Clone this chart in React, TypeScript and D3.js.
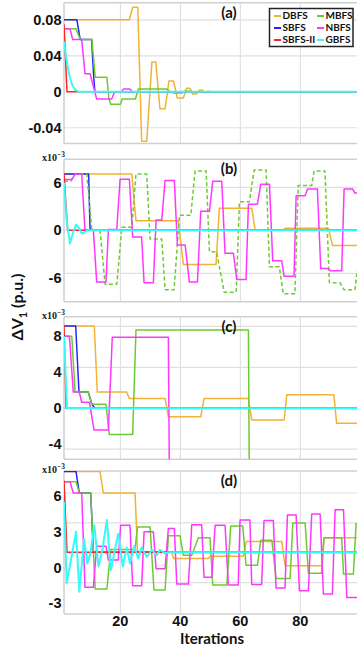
import React from 'react';
import * as d3 from 'd3';

type Pt = [number, number];

// ---------- data (iteration, ΔV1) vertices ----------
const seriesNames = ['DBFS', 'SBFS', 'SBFS-II', 'MBFS', 'NBFS', 'GBFS'];
const panelLabels = ['(a)', '(b)', '(c)', '(d)'];
const xTickValues = [20, 40, 60, 80];

// panel (a), p.u.
const DBFS_a: Pt[] = [[1.2,0.08],[23,0.08],[24.1,0.094],[25.8,0.094],[27.1,-0.055],[28.8,-0.055],[30.5,0.033],[31.8,0.033],[33.2,-0.019],[34.9,-0.019],[36.2,0.012],[37.7,0.012],[39,-0.007],[41,-0.007],[42.1,0.004],[43.2,0.004],[44.1,-0.0026],[45.3,-0.0026],[46.3,0.0018],[47.3,0.0018],[48.3,-0.001],[49.3,0.0006],[50.5,0],[99,0]];
const SBFS_a: Pt[] = [[1.2,0.08],[5.5,0.08],[6.6,0.058],[10.4,0.058],[11.1,0.017],[11.5,0],[99,0]];
const SBFS2_a: Pt[] = [[1.2,0.075],[2.2,0],[99,0]];
const MBFS_a: Pt[] = [[1.2,0.07],[5.2,0.07],[6.6,0.058],[10.5,0.058],[11.6,0.016],[15.5,0.016],[16.2,-0.008],[16.8,-0.014],[20,-0.014],[20.6,-0.008],[25,-0.008],[26,0.003],[35.5,0.003],[36.5,0],[38,-0.0015],[40.5,-0.0015],[41.5,0.0008],[43,0.0008],[44,0],[99,0]];
const NBFS_a: Pt[] = [[1.2,0.07],[3.2,0.07],[4.1,0.058],[7.1,0.058],[8.2,0.02],[9.9,0.02],[12.1,-0.008],[17.1,-0.008],[18.1,0],[20.4,0],[21,0.003],[23.2,0.003],[24,0],[99,0]];
const GBFS_a: Pt[] = [[1.2,0.056],[2,0.036],[3,0.018],[4,0.007],[5,0.002],[6,0],[99,0]];

// panel (b), x1e-3 p.u.
const DBFS_b: Pt[] = [[1.2,7.1],[23.8,7.1],[25.2,1.2],[39.3,1.2],[41,-4.3],[51.9,-4.3],[53,2.8],[63.8,2.8],[64.9,0.05],[74.3,0.05],[74.9,0.25],[89.4,0.25],[90.7,-1.9],[99,-1.9]];
const SBFS_b: Pt[] = [[1.2,7.1],[9.4,7.1],[9.9,0],[99,0]];
const SBFS2_b: Pt[] = [[1.2,7.1],[2.4,0],[99,0]];
const MBFS_b: Pt[] = [[1.2,6.2],[3.5,6.2],[4.9,7.1],[8.8,7.1],[10.5,0],[13.2,0],[14.9,-6.8],[18.8,-6.8],[20.5,0.4],[23.8,0.4],[25.2,7.1],[28.8,7.1],[29.9,-1.1],[33.8,-1.1],[34.9,-7.5],[37.9,-7.5],[39.7,1.9],[43.5,1.9],[44.9,7.5],[48.6,7.5],[49.7,-2.7],[52.1,-2.7],[54.6,-7.8],[58.6,-7.8],[59.7,3.6],[63,3.6],[64.6,7.6],[68.6,7.6],[69.7,-4.6],[73,-4.6],[74.3,-8],[78.2,-8],[79.3,5.65],[83.8,5.65],[84.6,7.5],[88.2,7.5],[89.7,-6.6],[93.2,-6.6],[94.6,-7.5],[98.2,-7.5],[99,-5]];
const NBFS_b: Pt[] = [[1.2,6.4],[3.8,6.4],[4.9,7.1],[7.1,7.1],[8.2,0],[11,0],[12.1,-6.5],[15.2,-6.5],[16,0.1],[18.8,0.1],[19.9,6.45],[23,6.45],[24.1,-0.85],[27.1,-0.85],[27.9,-6.6],[31,-6.6],[31.9,1.3],[33.8,1.3],[34.9,6.3],[38,6.3],[39,-1.85],[41.6,-1.85],[43,-6.5],[45.7,-6.5],[46.8,2.4],[49.7,2.4],[50.8,6.2],[53.8,6.2],[54.9,-2.9],[57.7,-2.9],[58.8,-6.2],[61.9,-6.2],[62.7,3.3],[65.7,3.3],[66.8,5.8],[69.7,5.8],[70.8,-3.85],[73.8,-3.85],[74.6,-5.8],[77.9,-5.8],[78.6,4.35],[81.6,4.35],[82.4,5.2],[85.7,5.2],[86.8,-4.8],[89.3,-4.8],[89.9,-5.1],[93.8,-5.1],[94.6,5.2],[97.5,5.2],[98.2,4.7],[99,4.7]];
const GBFS_b: Pt[] = [[1.2,6],[2,1.5],[3.2,-1.65],[4.2,-0.3],[5.2,0.7],[6.2,0.3],[7.1,-0.4],[8.2,-0.2],[9,0],[99,0]];

// panel (c), x1e-3 p.u.
const DBFS_c: Pt[] = [[1.2,9.15],[11.3,9.15],[12.3,1.8],[22.1,1.8],[23,1.1],[34.9,1.1],[36,-0.95],[46.8,-0.95],[47.9,1.1],[62.7,1.1],[63.8,-1.3],[74.6,-1.3],[75.5,1.5],[91.2,1.5],[92.1,-1.67],[99,-1.67]];
const SBFS_c: Pt[] = [[1.2,9.15],[5.1,9.15],[6.2,1.8],[9.3,1.8],[10.5,0.45],[11.5,0],[99,0]];
const SBFS2_c: Pt[] = [[1.2,9.15],[1.9,0],[99,0]];
const MBFS_c: Pt[] = [[1.2,8.0],[3.8,8.0],[4.9,1.8],[9.3,1.8],[10.5,0.45],[15.2,0.45],[16.3,-2.9],[24.1,-2.9],[25.2,8.7],[62.7,8.7],[63.2,-20],[99,-20]];
const NBFS_c: Pt[] = [[1.2,8.0],[3,8.0],[4.3,1.8],[6.3,1.8],[7.1,0.67],[9.7,0.67],[11.2,-2.4],[16,-2.4],[17.3,7.9],[36,7.9],[36.6,-20],[99,-20]];
const GBFS_c: Pt[] = [[1.2,8.0],[2.2,0],[99,0]];

// panel (d), x1e-3 p.u.
const DBFS_d: Pt[] = [[1.2,8.05],[13.2,8.05],[14.3,6.25],[24.9,6.25],[25.7,1.33],[37.1,1.33],[37.7,0.78],[49.3,0.78],[50.3,0.97],[61,0.97],[62,2.2],[73.8,2.2],[74.9,0.17],[87.1,0.17],[87.9,2.5],[99,2.5]];
const SBFS_d: Pt[] = [[1.2,8.05],[5.2,8.05],[6.3,6.25],[10.1,6.25],[11,1.3],[99,1.3]];
const SBFS2_d: Pt[] = [[1.2,7.3],[2.2,1.3],[99,1.3]];
const MBFS_d: Pt[] = [[1.2,7.2],[5.2,7.2],[6.3,6.25],[10.1,6.25],[11.6,-1.78],[15.5,-1.78],[16.8,1.53],[24.9,1.53],[25.7,3.4],[29.9,3.4],[31.2,-1.86],[34.9,-1.86],[36,2.67],[39.9,2.67],[41,1.05],[43.8,1.05],[46,2.5],[49.9,2.5],[50.8,-1.45],[55.5,-1.45],[56.8,3.5],[60.8,3.5],[61.9,0.2],[65.7,0.2],[66.8,2.3],[70.5,2.3],[71.9,-0.9],[76.6,-0.9],[77.5,3.75],[81.6,3.75],[82.7,-0.47],[87.1,-0.47],[87.9,2.5],[93.8,2.5],[94.4,-0.53],[97.7,-0.53],[98.6,3.7],[99,3.7]];
const NBFS_d: Pt[] = [[1.2,7.2],[3.2,7.2],[4.3,6.25],[7.1,6.25],[8.2,-1.64],[11,-1.64],[12.1,1.8],[15.2,1.8],[16,0.64],[19.3,0.64],[20.1,3.55],[23.2,3.55],[24.1,-1.5],[27.1,-1.5],[27.9,3.0],[31,3.0],[31.9,-0.08],[34.9,-0.08],[36,3.28],[38,3.28],[38.8,-1.36],[42.7,-1.36],[43.8,3.6],[47.1,3.6],[47.9,-0.8],[50.5,-0.8],[51.6,3.55],[54.9,3.55],[56,-1.45],[59.3,-1.45],[59.9,4.0],[63.2,4.0],[63.8,-1.4],[67.1,-1.4],[67.9,3.95],[71,3.95],[71.9,-1.7],[74.9,-1.7],[75.7,4.4],[78.6,4.4],[79.7,-1.93],[82.7,-1.93],[83.8,4.5],[86.6,4.5],[87.7,-2.2],[90.7,-2.2],[91.6,4.85],[94.4,4.85],[95.5,-2.5],[99,-2.5]];
const GBFS_d: Pt[] = [[1.2,5.5],[2.1,-1.3],[5.2,3.0],[6.3,-2.0],[7.9,2.4],[9.0,0.36],[10,1.2],[11.3,3.55],[12.7,0.1],[14,1.5],[15.5,4.0],[16.8,-0.2],[18,1.3],[19.3,2.85],[20.8,0.1],[22.1,1.7],[23.2,0.36],[24.6,1.8],[26,0.78],[27.1,1.7],[28.8,0.9],[30.5,1.5],[32.1,1.05],[33.2,1.5],[34.9,1.2],[36,1.3],[99,1.3]];

// y tick labels and grid levels per panel
const yTicksA = [-0.04, 0, 0.04, 0.08];
const yTickLabelsA = ['-0.04', '0', '0.04', '0.08'];
const yGridA = [-0.04, 0, 0.04, 0.08];
const yTicksB = [-6, 0, 6];
const yTickLabelsB = ['-6', '0', '6'];
const yGridB = [-5.43, 0, 5.43];
const yTicksC = [-4, 0, 4, 8];
const yTickLabelsC = ['-4', '0', '4', '8'];
const yGridC = [-4.55, 0, 4.55, 9.1];
const yTicksD = [-3, 0, 3, 6];
const yTickLabelsD = ['-3', '0', '3', '6'];
const yGridD = [-1.25, 1.25, 3.75, 6.25];

// ---------- styling / layout ----------
const W = 357, H = 648;
const X0 = 64, X1 = 357;
const colors: Record<string, string> = {
  'DBFS': '#F2B233',
  'SBFS': '#2424FF',
  'SBFS-II': '#FF2424',
  'MBFS': '#6CCB2E',
  'NBFS': '#FF36FF',
  'GBFS': '#36FAFA',
};
const drawOrder = ['DBFS', 'SBFS', 'MBFS', 'NBFS', 'SBFS-II', 'GBFS'];

const panels = [
  { top: 2.7, bottom: 143.5, domain: [-0.0575, 0.099], exp: false,
    ticks: yTicksA, tickLabels: yTickLabelsA, grid: yGridA, dashed: [] as string[],
    data: { 'DBFS': DBFS_a, 'SBFS': SBFS_a, 'SBFS-II': SBFS2_a, 'MBFS': MBFS_a, 'NBFS': NBFS_a, 'GBFS': GBFS_a } as Record<string, Pt[]> },
  { top: 159.3, bottom: 301.7, domain: [-9.0, 8.96], exp: true,
    ticks: yTicksB, tickLabels: yTickLabelsB, grid: yGridB, dashed: ['MBFS'],
    data: { 'DBFS': DBFS_b, 'SBFS': SBFS_b, 'SBFS-II': SBFS2_b, 'MBFS': MBFS_b, 'NBFS': NBFS_b, 'GBFS': GBFS_b } as Record<string, Pt[]> },
  { top: 316.7, bottom: 459.3, domain: [-5.67, 10.18], exp: true,
    ticks: yTicksC, tickLabels: yTickLabelsC, grid: yGridC, dashed: [] as string[],
    data: { 'DBFS': DBFS_c, 'SBFS': SBFS_c, 'SBFS-II': SBFS2_c, 'MBFS': MBFS_c, 'NBFS': NBFS_c, 'GBFS': GBFS_c } as Record<string, Pt[]> },
  { top: 471, bottom: 614, domain: [-3.87, 8.09], exp: true,
    ticks: yTicksD, tickLabels: yTickLabelsD, grid: yGridD, dashed: [] as string[],
    data: { 'DBFS': DBFS_d, 'SBFS': SBFS_d, 'SBFS-II': SBFS2_d, 'MBFS': MBFS_d, 'NBFS': NBFS_d, 'GBFS': GBFS_d } as Record<string, Pt[]> },
];

const tickFont = '"Liberation Sans", Arial, sans-serif';
const labelFont = 'Lato, "Open Sans", sans-serif';

export default function App() {
  const x = d3.scaleLinear().domain([1.2, 98.9]).range([X0, X1]);
  return (
    <svg width={W} height={H} style={{ position: 'absolute', left: 0, top: 0, background: '#fff' }}>
      <rect x={0} y={0} width={W} height={H} fill="#fff" />
      <defs>
        {panels.map((p, i) => (
          <clipPath id={`clip${i}`} key={i}>
            <rect x={X0} y={p.top} width={X1 - X0} height={p.bottom - p.top} />
          </clipPath>
        ))}
      </defs>
      {panels.map((p, i) => {
        const y = d3.scaleLinear().domain(p.domain).range([p.bottom, p.top]);
        const line = d3.line<Pt>().x(d => x(d[0])).y(d => y(d[1]));
        return (
          <g key={i}>
            {/* grid */}
            {xTickValues.map(v => (
              <line key={'vx' + v} x1={x(v)} x2={x(v)} y1={p.top} y2={p.bottom} stroke="#dcdcdc" strokeWidth={1} />
            ))}
            {p.grid.map(v => (
              <line key={'gy' + v} x1={X0} x2={X1} y1={y(v)} y2={y(v)} stroke="#e0e0e0" strokeWidth={1.2} />
            ))}
            {/* frame */}
            <line x1={X0} x2={X1} y1={p.top} y2={p.top} stroke="#cfcfcf" strokeWidth={1.5} />
            <line x1={X0} x2={X1} y1={p.bottom} y2={p.bottom} stroke="#cfcfcf" strokeWidth={1.5} />
            <line x1={X0} x2={X0} y1={p.top} y2={p.bottom} stroke="#cfcfcf" strokeWidth={1.5} />
            {/* series */}
            <g clipPath={`url(#clip${i})`}>
              {drawOrder.map(name => (
                <path key={name} d={line(p.data[name]) || ''} fill="none" stroke={colors[name]}
                  strokeWidth={name === 'GBFS' ? 2 : 1.5}
                  strokeDasharray={p.dashed.includes(name) ? '4,2.5' : undefined}
                  strokeLinejoin="round" />
              ))}
            </g>
            {/* y tick labels */}
            {p.ticks.map((v, k) => (
              <text key={'t' + v} x={61.5} y={y(v) + 1} textAnchor="end" dominantBaseline="middle"
                fontFamily={tickFont} fontWeight="bold" fontSize={14.5} fill="#111">{p.tickLabels[k]}</text>
            ))}
            {p.exp && (
              <text x={65} y={p.top + 2} textAnchor="end" fontFamily='"Liberation Serif", "DejaVu Serif", serif'
                fontWeight="bold" fontSize={10} fill="#222">
                x10<tspan fontSize={7.5} dy={-4}>−3</tspan>
              </text>
            )}
            {/* panel label */}
            <text x={229} y={p.top + 11} textAnchor="middle" dominantBaseline="middle"
              fontFamily={labelFont} fontWeight="bold" fontSize={15} fill="#111">{panelLabels[i]}</text>
          </g>
        );
      })}
      {/* x tick labels */}
      {xTickValues.map(v => (
        <text key={'xt' + v} x={x(v)} y={622.5} textAnchor="middle" dominantBaseline="middle"
          fontFamily={tickFont} fontWeight="bold" fontSize={14.5} fill="#111">{v}</text>
      ))}
      <text x={212} y={640} textAnchor="middle" dominantBaseline="middle"
        fontFamily={labelFont} fontWeight="bold" fontSize={15} fill="#111">Iterations</text>
      {/* y title */}
      <text transform="translate(23,307) rotate(-90)" textAnchor="middle"
        fontFamily={labelFont} fontWeight="bold" fontSize={16} fill="#111">
        ΔV<tspan fontSize={11} dy={4}>1</tspan><tspan dy={-4}> (p.u.)</tspan>
      </text>
      {/* legend */}
      <g>
        <rect x={269.5} y={8.5} width={83.5} height={38} fill="#fff" stroke="#222" strokeWidth={1.5} />
        {seriesNames.map((name, k) => {
          const col = k < 3 ? 0 : 1;
          const row = k % 3;
          const lx = col === 0 ? 274 : 317;
          const ly = 16 + row * 12;
          return (
            <g key={name}>
              <line x1={lx} x2={lx + 7} y1={ly} y2={ly} stroke={colors[name]} strokeWidth={2} />
              <text x={lx + 8.5} y={ly} dominantBaseline="middle" fontFamily={labelFont}
                fontWeight="bold" fontSize={10} fill="#111">{name}</text>
            </g>
          );
        })}
      </g>
    </svg>
  );
}
